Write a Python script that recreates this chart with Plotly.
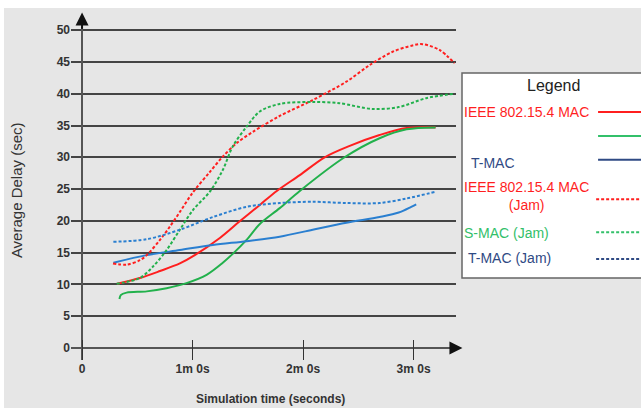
import plotly.graph_objects as go

# ---- data (x in seconds, y in seconds of delay) ----
ieee_x = [19.0, 31.4, 42.3, 53.1, 61.2, 74.8, 85.1, 96.5, 105.7, 118.2, 131.7, 145.3, 161.5, 176.2, 191.9]
ieee_y = [10.1, 11.0, 12.1, 13.3, 14.6, 17.3, 19.8, 22.5, 24.7, 27.2, 30.0, 31.8, 33.5, 34.6, 34.7]

smac_x = [20.3, 21.0, 24.2, 35.1, 45.9, 56.7, 67.6, 76.4, 81.8, 89.3, 96.5, 107.3, 118.2, 142.5, 161.5, 176.2, 191.9]
smac_y = [7.7, 8.3, 8.7, 8.9, 9.4, 10.2, 11.5, 13.4, 14.8, 17.0, 19.5, 22.0, 24.7, 30.0, 33.0, 34.4, 34.7]

tmac_x = [17.0, 35.1, 53.1, 71.0, 89.3, 107.3, 125.2, 143.5, 161.5, 171.9, 178.7, 181.4]
tmac_y = [13.4, 14.6, 15.4, 16.2, 16.8, 17.5, 18.6, 19.7, 20.6, 21.3, 22.2, 22.6]

ieee_jam_x = [16.8, 24.2, 31.4, 35.1, 42.3, 47.7, 53.1, 60.2, 69.4, 76.4, 83.8, 92.7, 107.3, 125.2, 143.5, 156.1, 168.6, 179.4, 184.8, 194.0, 202.2]
ieee_jam_y = [13.3, 13.1, 13.8, 14.6, 17.0, 19.1, 21.4, 24.5, 27.7, 30.1, 32.2, 34.0, 36.5, 39.0, 41.9, 44.5, 46.6, 47.6, 47.8, 46.9, 44.8]

smac_jam_x = [18.8, 31.4, 38.5, 45.9, 53.1, 60.2, 69.4, 76.4, 81.8, 89.3, 96.5, 107.3, 125.2, 139.8, 157.7, 171.9, 186.8, 202.2]
smac_jam_y = [10.1, 11.0, 12.8, 15.4, 18.6, 21.7, 24.6, 28.0, 31.7, 34.8, 37.2, 38.4, 38.7, 38.5, 37.6, 37.9, 39.3, 40.0]

tmac_jam_x = [17.0, 35.1, 53.1, 71.1, 89.3, 107.3, 125.2, 143.5, 161.5, 176.0, 192.2]
tmac_jam_y = [16.7, 17.1, 18.6, 20.6, 22.2, 22.8, 23.0, 22.8, 22.8, 23.5, 24.6]

x_tickvals = [0, 60, 120, 180]
x_ticktext = ["0", "1m 0s", "2m 0s", "3m 0s"]
y_tickvals = [0, 5, 10, 15, 20, 25, 30, 35, 40, 45, 50]

legend_labels = ["IEEE 802.15.4 MAC", "", "T-MAC", "IEEE 802.15.4 MAC<br>(Jam)", "S-MAC (Jam)", "T-MAC (Jam)"]

RED = "#ff1f1f"
GREEN = "#22b14c"
BLUE = "#2a7fd0"
NAVY = "#2f4a84"
LGREEN = "#33c06a"
FONT = "Liberation Sans, Arial, sans-serif"

series = [
    (ieee_x, ieee_y, RED, "solid"),
    (smac_x, smac_y, GREEN, "solid"),
    (tmac_x, tmac_y, BLUE, "solid"),
    (ieee_jam_x, ieee_jam_y, RED, "3px,2px"),
    (smac_jam_x, smac_jam_y, GREEN, "3px,2px"),
    (tmac_jam_x, tmac_jam_y, BLUE, "3px,2px"),
]

fig = go.Figure()
for xs, ys, c, d in series:
    fig.add_trace(go.Scatter(x=xs, y=ys, mode="lines",
                             line=dict(color=c, width=2, dash=d, shape="spline", smoothing=0.9),
                             showlegend=False, hoverinfo="skip"))

fig.update_layout(
    width=641, height=408,
    margin=dict(l=71, r=185, t=27, b=48),
    paper_bgcolor="#e6e6e6", plot_bgcolor="#e6e6e6",
    font=dict(family=FONT, color="#333"),
    showlegend=False,
)
fig.update_xaxes(range=[-6, 203], tickvals=x_tickvals, ticktext=x_ticktext,
                 ticks="inside", ticklen=20, tickcolor="#333", tickwidth=1,
                 showgrid=False, zeroline=True, zerolinecolor="#555", zerolinewidth=2,
                 showline=False, tickfont=dict(size=12, family=FONT, color="#333", weight="bold"))
fig.update_yaxes(range=[-1.9, 50.5], tickvals=y_tickvals, ticks="",
                 showgrid=True, gridcolor="#444", gridwidth=1.5,
                 zeroline=True, zerolinecolor="#555", zerolinewidth=2,
                 showline=False, tickfont=dict(size=12, family=FONT, color="#333", weight="bold"))

ann = []
# axis arrows
ann.append(dict(x=0, y=52.8, ax=0, ay=50.0, xref="x", yref="y", axref="x", ayref="y",
                text="", showarrow=True, arrowhead=2, arrowsize=1.3, arrowwidth=2, arrowcolor="#111"))
ann.append(dict(x=206.5, y=0, ax=199, ay=0, xref="x", yref="y", axref="x", ayref="y",
                text="", showarrow=True, arrowhead=2, arrowsize=1.3, arrowwidth=2, arrowcolor="#111"))
# titles
ann.append(dict(x=-0.143, y=0.51, xref="paper", yref="paper", text="Average Delay (sec)",
                xanchor="center", yanchor="middle",
                textangle=-90, showarrow=False, font=dict(size=15, color="#333", family=FONT)))
ann.append(dict(x=0.517, y=-0.117, xref="paper", yref="paper", text="Simulation time (seconds)",
                xanchor="center", yanchor="middle",
                showarrow=False, font=dict(size=12, color="#333", family=FONT, weight="bold")))

shapes = []
# white strips on the top/left edge
shapes.append(dict(type="rect", xref="paper", yref="paper", x0=-0.2, x1=1.6, y0=1.057, y1=1.2,
                   fillcolor="white", line=dict(width=0), layer="below"))
shapes.append(dict(type="rect", xref="paper", yref="paper", x0=-0.2, x1=-0.1740, y0=-0.2, y1=1.2,
                   fillcolor="white", line=dict(width=0), layer="below"))
# legend box
shapes.append(dict(type="rect", xref="paper", yref="paper", x0=1.0156, x1=1.6, y0=0.246, y1=0.862,
                   fillcolor="white", line=dict(color="#666", width=1.5)))
ann.append(dict(x=1.252, y=0.823, xref="paper", yref="paper", text="Legend", showarrow=False,
                xanchor="center", yanchor="middle",
                font=dict(size=16, color="#222", family=FONT)))

legend_text_x = [1.182, 1.182, 1.096, 1.182, 1.132, 1.138]
legend_text_y = [0.745, 0.673, 0.592, 0.491, 0.381, 0.306]
legend_line_y = [0.745, 0.673, 0.601, 0.483, 0.384, 0.303]
legend_text_c = [RED, LGREEN, NAVY, RED, LGREEN, NAVY]
legend_line_c = [RED, LGREEN, NAVY, RED, LGREEN, NAVY]
legend_dash = ["solid", "solid", "solid", "3px,2px", "3px,2px", "3px,2px"]
legend_line_x0 = [1.369, 1.369, 1.369, 1.364, 1.364, 1.364]
for i, lab in enumerate(legend_labels):
    if lab:
        ann.append(dict(x=legend_text_x[i], y=legend_text_y[i], xref="paper", yref="paper",
                        text=lab, showarrow=False, align="center",
                        xanchor="center", yanchor="middle",
                        font=dict(size=14, color=legend_text_c[i], family=FONT)))
    shapes.append(dict(type="line", xref="paper", yref="paper",
                       x0=legend_line_x0[i], x1=1.49, y0=legend_line_y[i], y1=legend_line_y[i],
                       line=dict(color=legend_line_c[i], width=2, dash=legend_dash[i])))

fig.update_layout(annotations=ann, shapes=shapes)
fig.write_html("out.html")
